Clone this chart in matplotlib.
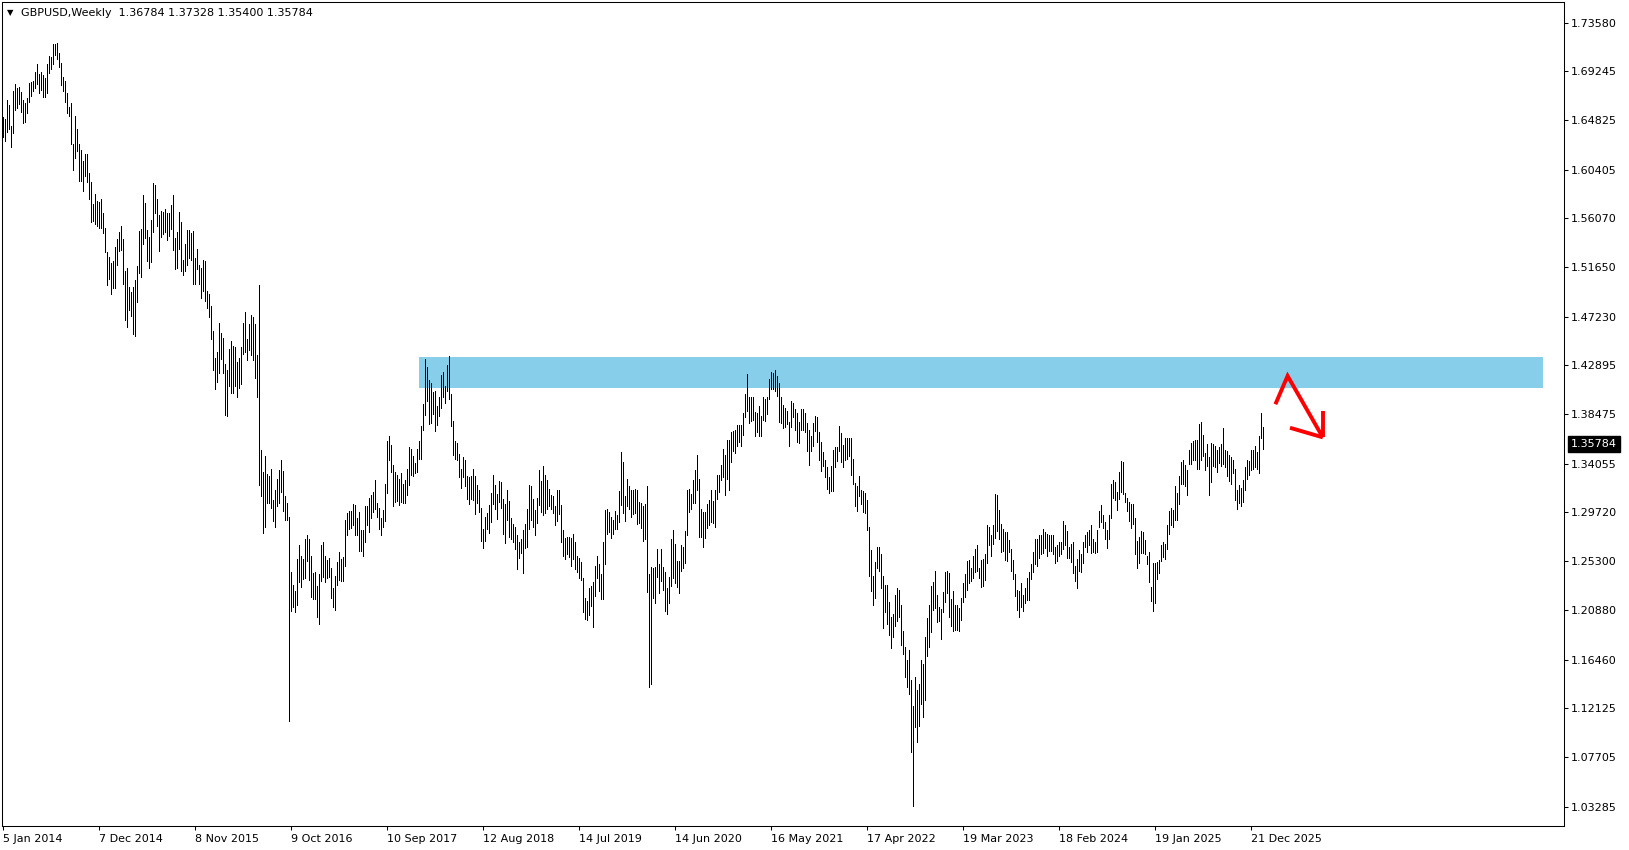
import numpy as np
import pandas as pd
import matplotlib
matplotlib.use("Agg")
import matplotlib.pyplot as plt
from matplotlib.patches import Rectangle
from matplotlib.transforms import blended_transform_factory

# ---------------- data ----------------
symbol = "GBPUSD,Weekly"
first_week = "2014-01-05"
last_ohlc = [1.36784, 1.37328, 1.35400, 1.35784]

bar_high = [
    1.651, 1.650, 1.667, 1.662, 1.643, 1.675, 1.681, 1.677, 1.678, 1.674,
    1.667, 1.664, 1.668, 1.682, 1.683, 1.684, 1.692, 1.699, 1.690, 1.692,
    1.689, 1.686, 1.699, 1.706, 1.705, 1.717, 1.717, 1.718, 1.709, 1.700,
    1.687, 1.684, 1.673, 1.660, 1.664, 1.627, 1.652, 1.641, 1.627, 1.622,
    1.612, 1.618, 1.618, 1.601, 1.593, 1.573, 1.582, 1.576, 1.575, 1.578,
    1.565, 1.552, 1.530, 1.526, 1.520, 1.522, 1.535, 1.542, 1.548, 1.554,
    1.542, 1.513, 1.516, 1.499, 1.494, 1.499, 1.505, 1.518, 1.549, 1.551,
    1.581, 1.574, 1.550, 1.544, 1.559, 1.592, 1.590, 1.578, 1.563, 1.567,
    1.566, 1.569, 1.565, 1.565, 1.572, 1.581, 1.543, 1.548, 1.566, 1.557,
    1.523, 1.537, 1.550, 1.550, 1.547, 1.549, 1.525, 1.533, 1.519, 1.516,
    1.523, 1.522, 1.495, 1.493, 1.482, 1.459, 1.435, 1.441, 1.467, 1.458,
    1.453, 1.430, 1.424, 1.443, 1.450, 1.446, 1.445, 1.432, 1.435, 1.445,
    1.467, 1.476, 1.452, 1.466, 1.474, 1.472, 1.466, 1.438, 1.501, 1.353,
    1.333, 1.347, 1.331, 1.329, 1.336, 1.308, 1.317, 1.327, 1.335, 1.344,
    1.334, 1.311, 1.305, 1.293, 1.243, 1.232, 1.226, 1.255, 1.267, 1.258,
    1.255, 1.273, 1.276, 1.273, 1.258, 1.242, 1.243, 1.231, 1.241, 1.267,
    1.270, 1.258, 1.254, 1.256, 1.247, 1.229, 1.240, 1.252, 1.261, 1.255,
    1.257, 1.290, 1.296, 1.298, 1.298, 1.304, 1.303, 1.292, 1.297, 1.281,
    1.281, 1.302, 1.302, 1.310, 1.312, 1.315, 1.326, 1.305, 1.301, 1.292,
    1.299, 1.322, 1.361, 1.365, 1.357, 1.339, 1.333, 1.330, 1.327, 1.332,
    1.322, 1.326, 1.336, 1.355, 1.354, 1.347, 1.341, 1.354, 1.361, 1.374,
    1.394, 1.434, 1.427, 1.415, 1.413, 1.405, 1.406, 1.392, 1.400, 1.420,
    1.423, 1.410, 1.429, 1.437, 1.403, 1.379, 1.361, 1.359, 1.349, 1.336,
    1.346, 1.344, 1.329, 1.328, 1.329, 1.336, 1.329, 1.321, 1.317, 1.301,
    1.282, 1.293, 1.296, 1.303, 1.314, 1.330, 1.321, 1.313, 1.325, 1.324,
    1.309, 1.304, 1.317, 1.307, 1.292, 1.286, 1.284, 1.276, 1.270, 1.273,
    1.281, 1.286, 1.300, 1.321, 1.320, 1.309, 1.299, 1.310, 1.335, 1.325,
    1.338, 1.330, 1.326, 1.318, 1.312, 1.311, 1.302, 1.317, 1.317, 1.303,
    1.281, 1.274, 1.275, 1.275, 1.274, 1.277, 1.270, 1.258, 1.256, 1.252,
    1.238, 1.220, 1.217, 1.229, 1.231, 1.234, 1.249, 1.258, 1.250, 1.241,
    1.270, 1.299, 1.300, 1.297, 1.293, 1.290, 1.298, 1.294, 1.316, 1.351,
    1.342, 1.311, 1.327, 1.320, 1.317, 1.317, 1.318, 1.317, 1.306, 1.305,
    1.302, 1.304, 1.320, 1.241, 1.248, 1.247, 1.248, 1.264, 1.250, 1.264,
    1.248, 1.243, 1.229, 1.239, 1.273, 1.281, 1.268, 1.253, 1.253, 1.267,
    1.266, 1.280, 1.317, 1.318, 1.313, 1.326, 1.335, 1.348, 1.327, 1.300,
    1.297, 1.297, 1.304, 1.308, 1.317, 1.307, 1.317, 1.330, 1.330, 1.339,
    1.354, 1.348, 1.362, 1.362, 1.369, 1.370, 1.371, 1.375, 1.375, 1.375,
    1.386, 1.403, 1.421, 1.400, 1.400, 1.400, 1.387, 1.386, 1.392, 1.383,
    1.400, 1.398, 1.400, 1.416, 1.423, 1.422, 1.424, 1.419, 1.413, 1.400,
    1.393, 1.390, 1.388, 1.378, 1.397, 1.395, 1.389, 1.386, 1.378, 1.389,
    1.389, 1.386, 1.377, 1.371, 1.365, 1.377, 1.383, 1.382, 1.369, 1.360,
    1.351, 1.344, 1.337, 1.328, 1.338, 1.353, 1.355, 1.355, 1.374, 1.368,
    1.357, 1.363, 1.363, 1.363, 1.363, 1.345, 1.323, 1.320, 1.329, 1.317,
    1.316, 1.314, 1.308, 1.284, 1.263, 1.240, 1.252, 1.266, 1.266, 1.259,
    1.240, 1.232, 1.232, 1.216, 1.203, 1.206, 1.223, 1.229, 1.227, 1.214,
    1.190, 1.176, 1.164, 1.173, 1.146, 1.123, 1.149, 1.137, 1.143, 1.164,
    1.161, 1.185, 1.202, 1.214, 1.231, 1.234, 1.244, 1.223, 1.212, 1.210,
    1.225, 1.243, 1.244, 1.242, 1.219, 1.226, 1.214, 1.214, 1.211, 1.220,
    1.233, 1.241, 1.253, 1.254, 1.247, 1.258, 1.264, 1.267, 1.247, 1.254,
    1.255, 1.259, 1.285, 1.284, 1.276, 1.285, 1.313, 1.312, 1.299, 1.286,
    1.282, 1.279, 1.279, 1.272, 1.264, 1.254, 1.241, 1.227, 1.226, 1.233,
    1.223, 1.229, 1.238, 1.243, 1.250, 1.261, 1.273, 1.273, 1.276, 1.276,
    1.282, 1.279, 1.277, 1.276, 1.276, 1.276, 1.266, 1.267, 1.270, 1.270,
    1.289, 1.285, 1.280, 1.266, 1.268, 1.270, 1.249, 1.255, 1.263, 1.259,
    1.270, 1.276, 1.279, 1.281, 1.285, 1.273, 1.270, 1.281, 1.298, 1.303,
    1.294, 1.288, 1.281, 1.294, 1.322, 1.326, 1.324, 1.315, 1.333, 1.343,
    1.342, 1.314, 1.310, 1.306, 1.304, 1.304, 1.292, 1.271, 1.275, 1.280,
    1.279, 1.272, 1.258, 1.261, 1.230, 1.251, 1.251, 1.252, 1.254, 1.267,
    1.270, 1.268, 1.285, 1.298, 1.301, 1.299, 1.320, 1.314, 1.329, 1.342,
    1.344, 1.339, 1.335, 1.353, 1.359, 1.361, 1.362, 1.362, 1.376, 1.378,
    1.366, 1.350, 1.358, 1.346, 1.359, 1.358, 1.356, 1.353, 1.355, 1.358,
    1.372, 1.353, 1.352, 1.348, 1.346, 1.344, 1.336, 1.317, 1.321, 1.319,
    1.326, 1.337, 1.344, 1.343, 1.353, 1.353, 1.356, 1.351, 1.365, 1.386,
    1.37328,
]

bar_low = [
    1.633, 1.630, 1.638, 1.641, 1.624, 1.637, 1.658, 1.659, 1.663, 1.656,
    1.646, 1.647, 1.655, 1.665, 1.670, 1.675, 1.677, 1.681, 1.673, 1.676,
    1.669, 1.669, 1.673, 1.691, 1.694, 1.699, 1.707, 1.703, 1.696, 1.680,
    1.675, 1.665, 1.655, 1.652, 1.627, 1.604, 1.615, 1.621, 1.594, 1.594,
    1.585, 1.598, 1.593, 1.578, 1.557, 1.558, 1.555, 1.554, 1.552, 1.552,
    1.547, 1.530, 1.501, 1.506, 1.493, 1.498, 1.498, 1.519, 1.531, 1.532,
    1.502, 1.469, 1.463, 1.478, 1.473, 1.457, 1.455, 1.485, 1.511, 1.508,
    1.537, 1.543, 1.522, 1.516, 1.521, 1.548, 1.565, 1.554, 1.531, 1.544,
    1.546, 1.548, 1.541, 1.545, 1.551, 1.532, 1.515, 1.516, 1.533, 1.513,
    1.510, 1.513, 1.519, 1.525, 1.523, 1.502, 1.502, 1.515, 1.502, 1.489,
    1.495, 1.486, 1.480, 1.472, 1.452, 1.424, 1.407, 1.414, 1.422, 1.434,
    1.422, 1.384, 1.383, 1.410, 1.404, 1.404, 1.410, 1.400, 1.408, 1.412,
    1.439, 1.441, 1.433, 1.442, 1.438, 1.433, 1.417, 1.400, 1.321, 1.311,
    1.278, 1.284, 1.305, 1.305, 1.301, 1.289, 1.284, 1.302, 1.305, 1.315,
    1.298, 1.290, 1.290, 1.110, 1.208, 1.212, 1.207, 1.214, 1.234, 1.230,
    1.237, 1.238, 1.253, 1.236, 1.221, 1.219, 1.219, 1.203, 1.197, 1.235,
    1.239, 1.234, 1.238, 1.239, 1.220, 1.212, 1.209, 1.232, 1.236, 1.235,
    1.235, 1.249, 1.276, 1.282, 1.283, 1.285, 1.276, 1.276, 1.262, 1.262,
    1.258, 1.270, 1.285, 1.279, 1.292, 1.297, 1.300, 1.293, 1.282, 1.276,
    1.284, 1.289, 1.314, 1.344, 1.333, 1.302, 1.306, 1.307, 1.303, 1.306,
    1.305, 1.305, 1.312, 1.321, 1.330, 1.329, 1.332, 1.333, 1.345, 1.345,
    1.371, 1.384, 1.397, 1.376, 1.377, 1.385, 1.370, 1.375, 1.383, 1.390,
    1.400, 1.395, 1.406, 1.398, 1.374, 1.348, 1.345, 1.344, 1.328, 1.319,
    1.328, 1.320, 1.309, 1.304, 1.309, 1.308, 1.295, 1.305, 1.297, 1.271,
    1.265, 1.271, 1.282, 1.278, 1.288, 1.304, 1.300, 1.291, 1.306, 1.301,
    1.277, 1.269, 1.290, 1.275, 1.273, 1.270, 1.264, 1.246, 1.256, 1.260,
    1.242, 1.265, 1.266, 1.282, 1.290, 1.284, 1.276, 1.287, 1.303, 1.297,
    1.294, 1.296, 1.300, 1.302, 1.300, 1.296, 1.285, 1.289, 1.295, 1.270,
    1.258, 1.255, 1.259, 1.257, 1.249, 1.255, 1.246, 1.243, 1.238, 1.236,
    1.207, 1.201, 1.200, 1.205, 1.213, 1.194, 1.222, 1.238, 1.226, 1.219,
    1.219, 1.250, 1.277, 1.279, 1.274, 1.277, 1.282, 1.282, 1.288, 1.303,
    1.296, 1.289, 1.302, 1.300, 1.293, 1.295, 1.296, 1.286, 1.287, 1.283,
    1.271, 1.273, 1.225, 1.140, 1.143, 1.220, 1.215, 1.239, 1.224, 1.235,
    1.227, 1.208, 1.206, 1.215, 1.231, 1.238, 1.233, 1.230, 1.224, 1.244,
    1.247, 1.251, 1.276, 1.297, 1.300, 1.305, 1.305, 1.317, 1.275, 1.275,
    1.266, 1.274, 1.283, 1.285, 1.288, 1.287, 1.284, 1.309, 1.315, 1.326,
    1.328, 1.312, 1.327, 1.317, 1.342, 1.352, 1.350, 1.356, 1.360, 1.356,
    1.366, 1.382, 1.388, 1.377, 1.379, 1.380, 1.365, 1.369, 1.365, 1.365,
    1.380, 1.379, 1.385, 1.398, 1.407, 1.407, 1.406, 1.401, 1.378, 1.377,
    1.372, 1.373, 1.376, 1.356, 1.373, 1.382, 1.371, 1.360, 1.359, 1.371,
    1.371, 1.369, 1.352, 1.339, 1.352, 1.356, 1.370, 1.360, 1.344, 1.334,
    1.338, 1.328, 1.318, 1.314, 1.316, 1.316, 1.337, 1.343, 1.352, 1.342,
    1.337, 1.344, 1.345, 1.347, 1.330, 1.322, 1.302, 1.298, 1.311, 1.304,
    1.297, 1.296, 1.281, 1.240, 1.226, 1.214, 1.220, 1.247, 1.244, 1.229,
    1.193, 1.207, 1.197, 1.187, 1.175, 1.185, 1.195, 1.199, 1.203, 1.178,
    1.170, 1.149, 1.140, 1.134, 1.082, 1.033, 1.104, 1.091, 1.105, 1.125,
    1.113, 1.128, 1.168, 1.176, 1.189, 1.209, 1.211, 1.198, 1.199, 1.183,
    1.207, 1.216, 1.224, 1.203, 1.195, 1.190, 1.191, 1.191, 1.190, 1.200,
    1.216, 1.221, 1.227, 1.233, 1.235, 1.238, 1.243, 1.244, 1.238, 1.230,
    1.231, 1.236, 1.251, 1.267, 1.258, 1.268, 1.274, 1.280, 1.273, 1.261,
    1.262, 1.254, 1.253, 1.261, 1.244, 1.237, 1.222, 1.209, 1.203, 1.212,
    1.208, 1.215, 1.218, 1.218, 1.237, 1.243, 1.250, 1.249, 1.256, 1.259,
    1.260, 1.265, 1.258, 1.262, 1.262, 1.259, 1.251, 1.253, 1.258, 1.259,
    1.264, 1.267, 1.256, 1.256, 1.252, 1.242, 1.235, 1.229, 1.244, 1.243,
    1.251, 1.266, 1.261, 1.267, 1.260, 1.261, 1.260, 1.261, 1.284, 1.288,
    1.283, 1.273, 1.265, 1.273, 1.292, 1.310, 1.308, 1.299, 1.309, 1.315,
    1.313, 1.306, 1.298, 1.289, 1.283, 1.286, 1.259, 1.247, 1.251, 1.260,
    1.260, 1.259, 1.250, 1.234, 1.217, 1.208, 1.215, 1.237, 1.242, 1.253,
    1.257, 1.255, 1.264, 1.277, 1.285, 1.284, 1.290, 1.290, 1.304, 1.322,
    1.322, 1.320, 1.312, 1.340, 1.340, 1.344, 1.344, 1.336, 1.336, 1.344,
    1.347, 1.335, 1.338, 1.312, 1.324, 1.338, 1.337, 1.333, 1.341, 1.338,
    1.340, 1.337, 1.329, 1.325, 1.322, 1.332, 1.308, 1.300, 1.305, 1.302,
    1.306, 1.317, 1.327, 1.330, 1.335, 1.336, 1.337, 1.336, 1.332, 1.363,
    1.35400,
]

price_ticks = [1.73580, 1.69245, 1.64825, 1.60405, 1.56070, 1.51650, 1.47230,
               1.42895, 1.38475, 1.34055, 1.29720, 1.25300, 1.20880, 1.16460,
               1.12125, 1.07705, 1.03285]
date_ticks = ["5 Jan 2014", "7 Dec 2014", "8 Nov 2015", "9 Oct 2016",
              "10 Sep 2017", "12 Aug 2018", "14 Jul 2019", "14 Jun 2020",
              "16 May 2021", "17 Apr 2022", "19 Mar 2023", "18 Feb 2024",
              "19 Jan 2025", "21 Dec 2025"]

# resistance zone (time span, price span)
zone_dates = ["2017-12-31", "2028-10-08"]
zone_prices = [1.4085, 1.4361]

# hand drawn arrow: weeks after last bar / price
arrow_weeks = [6.2, 12.3, 29.9]
arrow_prices = [1.3937, 1.4191, 1.3640]
arrow_head_weeks = [29.9, 13.5]
arrow_head_prices = [1.3879, 1.3726]

# ---------------- helpers ----------------
start = pd.Timestamp(first_week)


def week_index(d):
    return (pd.Timestamp(d) - start).days / 7.0


n_bars = len(bar_high)
x = np.arange(n_bars)
last_x = x[-1]

W, H = 1629, 850
fig = plt.figure(figsize=(W / 100, H / 100), dpi=100)
fig.patch.set_facecolor("white")
ax = fig.add_axes([2 / W, 24 / H, 1562 / W, 824 / H])
ax.set_facecolor("white")

ax.set_xlim(-0.5, 780.5)
ax.set_ylim(1.0154, 1.7545)

# zone
z0, z1 = week_index(zone_dates[0]), week_index(zone_dates[1])
ax.add_patch(Rectangle((z0, zone_prices[0]), z1 - z0, zone_prices[1] - zone_prices[0],
                       facecolor="#87CEEB", edgecolor="none", zorder=1))

# bars (1 px wide high-low lines)
ax.vlines(x, bar_low, bar_high, colors="black", linewidth=0.5,
          antialiased=False, zorder=3)

# arrow
ax_x = [last_x + w for w in arrow_weeks]
ax.plot(ax_x, arrow_prices, color="red", linewidth=2.8, solid_capstyle="butt",
        solid_joinstyle="miter", zorder=4)
tip = (ax_x[-1], arrow_prices[-1])
for wk, pr in zip(arrow_head_weeks, arrow_head_prices):
    ax.plot([tip[0], last_x + wk], [tip[1], pr], color="red", linewidth=2.8,
            solid_capstyle="butt", zorder=4)

# frame
for s in ax.spines.values():
    s.set_color("black")
    s.set_linewidth(0.75)

# price axis on the right
ax.yaxis.tick_right()
ax.set_yticks(price_ticks)
ax.set_yticklabels([f"{p:.5f}" for p in price_ticks])
ax.tick_params(axis="y", which="both", direction="out", length=3, width=0.75,
               pad=2, labelsize=8, colors="black")

# date axis
xt = [week_index(pd.to_datetime(d, format="%d %b %Y")) for d in date_ticks]
ax.set_xticks(xt)
ax.set_xticklabels(date_ticks)
ax.tick_params(axis="x", which="both", direction="out", length=3, width=0.75,
               pad=3, labelsize=8, colors="black")
for lbl in ax.get_xticklabels():
    lbl.set_horizontalalignment("left")

# current price label
tr = blended_transform_factory(ax.transAxes, ax.transData)
ax.text(1.0 + 7 / 1562, last_ohlc[3], f"{last_ohlc[3]:.5f}", transform=tr,
        ha="left", va="center", fontsize=8, color="white", zorder=6,
        bbox=dict(boxstyle="square,pad=0.25", facecolor="black", edgecolor="black"),
        clip_on=False)

# header
fig.text(7 / W, 1 - 12.5 / H, "\u25BC", fontsize=6, ha="left", va="center", color="black")
header = f"{symbol}  " + " ".join(f"{v:.5f}" for v in last_ohlc)
fig.text(21 / W, 1 - 12.5 / H, header, fontsize=8, ha="left", va="center", color="black")

fig.savefig("out.png", dpi=100, facecolor="white")
